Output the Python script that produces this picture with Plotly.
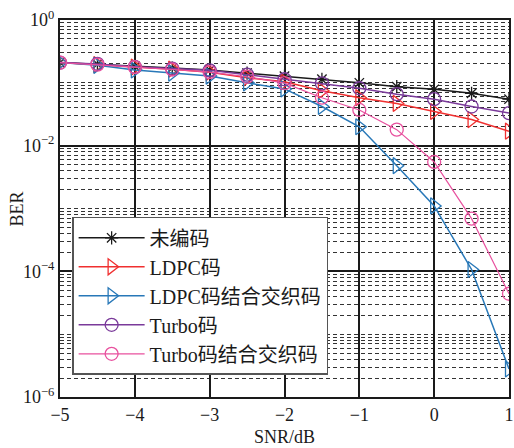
import plotly.graph_objects as go

snr = [-5, -4.5, -4, -3.5, -3, -2.5, -2, -1.5, -1, -0.5, 0, 0.5, 1]
ber_uncoded = [0.21, 0.198, 0.183, 0.172, 0.16, 0.143, 0.128, 0.114, 0.100, 0.087, 0.079, 0.068, 0.055]
ber_ldpc = [0.21, 0.195, 0.178, 0.165, 0.147, 0.12, 0.104, 0.075, 0.058, 0.047, 0.035, 0.026, 0.017]
ber_ldpc_int = [0.21, 0.19, 0.16, 0.143, 0.128, 0.10, 0.08, 0.042, 0.020, 0.0048, 0.0011, 1.07e-4, 2.8e-6]
ber_turbo = [0.21, 0.2, 0.18, 0.168, 0.158, 0.135, 0.114, 0.098, 0.082, 0.066, 0.055, 0.042, 0.033]
ber_turbo_int = [0.21, 0.195, 0.178, 0.163, 0.148, 0.125, 0.099, 0.058, 0.037, 0.018, 0.0055, 6.9e-4, 4.4e-5]

y_tickvals = [1e-6, 1e-4, 1e-2, 1]
y_ticktext = ["10<sup>−6</sup>", "10<sup>−4</sup>", "10<sup>−2</sup>", "10<sup>0</sup>"]
x_tickvals = [-5, -4, -3, -2, -1, 0, 1]
x_ticktext = ["−5", "−4", "−3", "−2", "−1", "0", "1"]

names = ["未编码", "LDPC码", "LDPC码结合交织码", "Turbo码", "Turbo码结合交织码"]
series = [ber_uncoded, ber_ldpc, ber_ldpc_int, ber_turbo, ber_turbo_int]
colors = ["#1a1a1a", "#f03030", "#2878b8", "#7a3a9a", "#e8509e"]
symbols = ["asterisk-open", "triangle-right-open", "triangle-right-open", "circle-open", "circle-open"]
sizes = [11, 14, 14, 13, 13]
widths = [1.5, 1.5, 1.5, 1.5, 1.2]

FONT = "Liberation Serif, Times New Roman, Noto Sans CJK SC, serif"

fig = go.Figure()
for n, y, c, s, sz, w in zip(names, series, colors, symbols, sizes, widths):
    fig.add_trace(go.Scatter(
        x=snr, y=y, name=n, mode="lines+markers",
        line=dict(color=c, width=w),
        marker=dict(symbol=s, size=sz, color=c, line=dict(color=c, width=1.3)),
    ))

fig.update_layout(
    width=514, height=448,
    margin=dict(l=60, r=5, t=20, b=51),
    paper_bgcolor="white", plot_bgcolor="white",
    font=dict(family=FONT, size=16, color="#1a1a1a"),
    showlegend=True,
    legend=dict(
        x=0.027, y=0.478, xanchor="left", yanchor="top",
        bgcolor="white", bordercolor="#555555", borderwidth=1.5,
        font=dict(family=FONT, size=20, color="#1a1a1a"),
        tracegroupgap=0, itemwidth=66,
    ),
    annotations=[
        dict(text="SNR/dB", xref="paper", yref="paper", x=0.5, y=-0.106,
             xanchor="center", yanchor="middle", showarrow=False,
             font=dict(family=FONT, size=18)),
        dict(text="BER", xref="paper", yref="paper", x=-0.096, y=0.5,
             xanchor="center", yanchor="middle", showarrow=False, textangle=-90,
             font=dict(family=FONT, size=18)),
    ],
)

fig.update_xaxes(
    range=[-5, 1], tickvals=x_tickvals, ticktext=x_ticktext,
    showgrid=True, gridcolor="#1a1a1a", gridwidth=2,
    showline=True, linecolor="#1a1a1a", linewidth=2, mirror=True,
    zeroline=False, ticks="", automargin=False, ticklabeloverflow="allow",
    tickfont=dict(family=FONT, size=18),
)
fig.update_yaxes(
    type="log", range=[-6, 0], tickvals=y_tickvals, ticktext=y_ticktext,
    showgrid=True, gridcolor="#1a1a1a", gridwidth=2,
    showline=True, linecolor="#1a1a1a", linewidth=2, mirror=True,
    zeroline=False, ticks="", automargin=False, ticklabeloverflow="allow",
    tickfont=dict(family=FONT, size=18),
    minor=dict(dtick="D1", showgrid=True, gridcolor="#333333", griddash="4px,3px", gridwidth=1.3, ticks=""),
)

fig.write_html(
    "out.html",
    config={"displayModeBar": False},
    post_script="document.body.style.margin='0';document.body.style.overflow='hidden';",
)
